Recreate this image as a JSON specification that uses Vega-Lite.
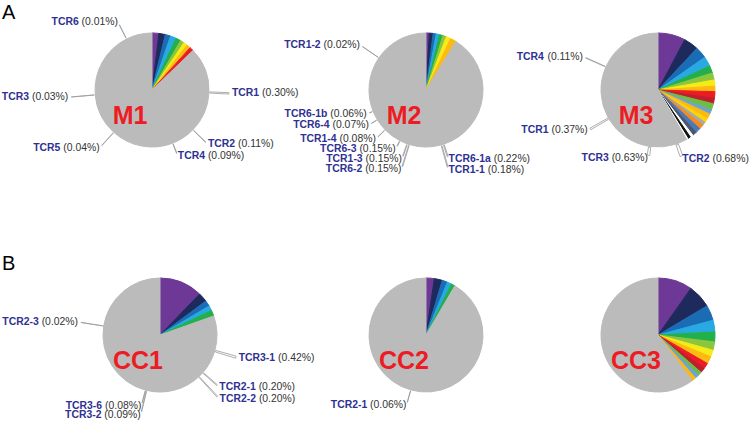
{
"$schema":"https://vega.github.io/schema/vega-lite/v6.json",
"background":"white",
"padding":{"left":1,"top":1,"right":0,"bottom":0},
"columns":3,
"align":"none",
"bounds":"flush",
"spacing":{"row":121,"column":0},
"resolve":{"scale":{"theta":"independent","color":"independent","stroke":"independent"}},
"config":{"view":{"stroke":null},"text":{"font":"Liberation Sans","fontSize":10.4,"baseline":"middle","color":"#333333"}},
"concat":[
{"width":240,"height":124,
"data":{"values":[
{"k":1,"c":"C1","v":1.94},{"k":2,"c":"C2","v":1.81},{"k":3,"c":"C3","v":1.53},{"k":4,"c":"C4","v":1.67},{"k":5,"c":"C5","v":1.39},{"k":6,"c":"C6","v":1.11},{"k":7,"c":"C7","v":1.11},{"k":8,"c":"C8","v":1.11},{"k":9,"c":"C9","v":1.11},
{"k":10,"c":"other","v":12.76},{"k":11,"c":"other","v":0.30,"name":"TCR1","pct":"(0.30%)"},{"k":12,"c":"other","v":11.39},{"k":13,"c":"other","v":0.11,"name":"TCR2","pct":"(0.11%)"},{"k":14,"c":"other","v":6.70},{"k":15,"c":"other","v":0.09,"name":"TCR4","pct":"(0.09%)"},{"k":16,"c":"other","v":17.55},{"k":17,"c":"other","v":0.04,"name":"TCR5","pct":"(0.04%)"},{"k":18,"c":"other","v":11.90},{"k":19,"c":"other","v":0.03,"name":"TCR3","pct":"(0.03%)"},{"k":20,"c":"other","v":18.97},{"k":21,"c":"other","v":0.01,"name":"TCR6","pct":"(0.01%)"},{"k":22,"c":"other","v":7.38}]},
"layer":[
{"mark":{"type":"arc","outerRadius":57,"strokeWidth":1},"encoding":{"theta":{"field":"v","type":"quantitative","stack":true},"order":{"field":"k","type":"quantitative"},"color":{"field":"c","type":"nominal","scale":{"domain":["C1","C2","C3","C4","C5","C6","C7","C8","C9","C10","C11","C12","C13","C14","C15","C16","C17","C18","C19","C20","other"],"range":["#6E3996","#1F2A5C","#1A6DB5","#28A9E1","#22B04B","#8CC63F","#F6EB16","#FDBA12","#EC1C24","#BE1E2D","#6DBE45","#6CA3D8","#FDB913","#FFD400","#A7A9AC","#F58A1F","#4A79B8","#4C5670","#FFFFFF","#111111","#BBBBBB"]},"legend":null},"stroke":{"field":"c","type":"nominal","scale":{"domain":["C1","C2","C3","C4","C5","C6","C7","C8","C9","C10","C11","C12","C13","C14","C15","C16","C17","C18","C19","C20","other"],"range":["#6E3996","#1F2A5C","#1A6DB5","#28A9E1","#22B04B","#8CC63F","#F6EB16","#FDBA12","#EC1C24","#BE1E2D","#6DBE45","#6CA3D8","#FDB913","#FFD400","#A7A9AC","#F58A1F","#4A79B8","#4C5670","#FFFFFF","#111111","#BBBBBB"]},"legend":null}}},
{"transform":[{"filter":"datum.k==1"}],"mark":{"type":"text","text":"M1","font":"Liberation Sans","fontSize":25,"fontWeight":"bold","color":"#ED1C24","align":"center","dx":-22,"dy":26},"encoding":{}},
{"transform":[{"filter":"datum.k==1"}],"mark":{"type":"text","text":"A","font":"Liberation Sans","fontSize":20,"color":"#000000","align":"left","baseline":"alphabetic","dx":-150,"dy":-71},"encoding":{}},
{"encoding":{"theta":{"field":"v","type":"quantitative","stack":true},"order":{"field":"k","type":"quantitative"}},"layer":[{"mark":{"type":"arc","innerRadius":58,"outerRadius":77,"filled":false,"stroke":"#999999","strokeWidth":0.8},"encoding":{"strokeOpacity":{"condition":{"test":"datum.name=='TCR1'","value":1},"value":0}}},{"mark":{"type":"text","radius":80,"align":"left","fontWeight":"bold","color":"#2E3192"},"encoding":{"text":{"condition":{"test":"datum.name=='TCR1'","field":"name","type":"nominal"},"value":""}}},{"mark":{"type":"text","radius":80,"align":"left","dx":30.1},"encoding":{"text":{"condition":{"test":"datum.name=='TCR1'","field":"pct","type":"nominal"},"value":""}}}]},
{"encoding":{"theta":{"field":"v","type":"quantitative","stack":true},"order":{"field":"k","type":"quantitative"}},"layer":[{"mark":{"type":"arc","innerRadius":58,"outerRadius":75,"filled":false,"stroke":"#999999","strokeWidth":0.8},"encoding":{"strokeOpacity":{"condition":{"test":"datum.name=='TCR2'","value":1},"value":0}}},{"mark":{"type":"text","radius":78,"align":"left","fontWeight":"bold","color":"#2E3192"},"encoding":{"text":{"condition":{"test":"datum.name=='TCR2'","field":"name","type":"nominal"},"value":""}}},{"mark":{"type":"text","radius":78,"align":"left","dx":30.1},"encoding":{"text":{"condition":{"test":"datum.name=='TCR2'","field":"pct","type":"nominal"},"value":""}}}]},
{"encoding":{"theta":{"field":"v","type":"quantitative","stack":true},"order":{"field":"k","type":"quantitative"}},"layer":[{"mark":{"type":"arc","innerRadius":58,"outerRadius":68,"filled":false,"stroke":"#999999","strokeWidth":0.8},"encoding":{"strokeOpacity":{"condition":{"test":"datum.name=='TCR4'","value":1},"value":0}}},{"mark":{"type":"text","radius":71,"align":"left","fontWeight":"bold","color":"#2E3192"},"encoding":{"text":{"condition":{"test":"datum.name=='TCR4'","field":"name","type":"nominal"},"value":""}}},{"mark":{"type":"text","radius":71,"align":"left","dx":30.1},"encoding":{"text":{"condition":{"test":"datum.name=='TCR4'","field":"pct","type":"nominal"},"value":""}}}]},
{"encoding":{"theta":{"field":"v","type":"quantitative","stack":true},"order":{"field":"k","type":"quantitative"}},"layer":[{"mark":{"type":"arc","innerRadius":58,"outerRadius":75,"filled":false,"stroke":"#999999","strokeWidth":0.8},"encoding":{"strokeOpacity":{"condition":{"test":"datum.name=='TCR5'","value":1},"value":0}}},{"mark":{"type":"text","radius":78,"align":"right","dx":-39.3,"fontWeight":"bold","color":"#2E3192"},"encoding":{"text":{"condition":{"test":"datum.name=='TCR5'","field":"name","type":"nominal"},"value":""}}},{"mark":{"type":"text","radius":78,"align":"right"},"encoding":{"text":{"condition":{"test":"datum.name=='TCR5'","field":"pct","type":"nominal"},"value":""}}}]},
{"encoding":{"theta":{"field":"v","type":"quantitative","stack":true},"order":{"field":"k","type":"quantitative"}},"layer":[{"mark":{"type":"arc","innerRadius":58,"outerRadius":81,"filled":false,"stroke":"#999999","strokeWidth":0.8},"encoding":{"strokeOpacity":{"condition":{"test":"datum.name=='TCR3'","value":1},"value":0}}},{"mark":{"type":"text","radius":84,"align":"right","dx":-39.3,"fontWeight":"bold","color":"#2E3192"},"encoding":{"text":{"condition":{"test":"datum.name=='TCR3'","field":"name","type":"nominal"},"value":""}}},{"mark":{"type":"text","radius":84,"align":"right"},"encoding":{"text":{"condition":{"test":"datum.name=='TCR3'","field":"pct","type":"nominal"},"value":""}}}]},
{"encoding":{"theta":{"field":"v","type":"quantitative","stack":true},"order":{"field":"k","type":"quantitative"}},"layer":[{"mark":{"type":"arc","innerRadius":58,"outerRadius":73,"filled":false,"stroke":"#999999","strokeWidth":0.8},"encoding":{"strokeOpacity":{"condition":{"test":"datum.name=='TCR6'","value":1},"value":0}}},{"mark":{"type":"text","radius":76,"align":"right","dx":-39.3,"fontWeight":"bold","color":"#2E3192"},"encoding":{"text":{"condition":{"test":"datum.name=='TCR6'","field":"name","type":"nominal"},"value":""}}},{"mark":{"type":"text","radius":76,"align":"right"},"encoding":{"text":{"condition":{"test":"datum.name=='TCR6'","field":"pct","type":"nominal"},"value":""}}}]}
]},
{"width":276,"height":124,
"data":{"values":[
{"k":1,"c":"C1","v":0.94},{"k":2,"c":"C2","v":1.06},{"k":3,"c":"C3","v":0.86},{"k":4,"c":"C4","v":0.97},{"k":5,"c":"C5","v":0.97},{"k":6,"c":"C6","v":1.00},{"k":7,"c":"C7","v":1.33},{"k":8,"c":"C8","v":1.64},
{"k":9,"c":"other","v":36.11},{"k":10,"c":"other","v":0.22,"name":"TCR6-1a","pct":"(0.22%)"},{"k":11,"c":"other","v":0.45},{"k":12,"c":"other","v":0.18,"name":"TCR1-1","pct":"(0.18%)"},{"k":13,"c":"other","v":8.96},{"k":14,"c":"other","v":0.15,"name":"TCR6-2","pct":"(0.15%)"},{"k":15,"c":"other","v":0.43},{"k":16,"c":"other","v":0.15,"name":"TCR1-3","pct":"(0.15%)"},{"k":17,"c":"other","v":2.07},{"k":18,"c":"other","v":0.15,"name":"TCR6-3","pct":"(0.15%)"},{"k":19,"c":"other","v":5.02},{"k":20,"c":"other","v":0.08,"name":"TCR1-4","pct":"(0.08%)"},{"k":21,"c":"other","v":3.48},{"k":22,"c":"other","v":0.07,"name":"TCR6-4","pct":"(0.07%)"},{"k":23,"c":"other","v":2.57},{"k":24,"c":"other","v":0.06,"name":"TCR6-1b","pct":"(0.06%)"},{"k":25,"c":"other","v":15.61},{"k":26,"c":"other","v":0.02,"name":"TCR1-2","pct":"(0.02%)"},{"k":27,"c":"other","v":15.45}]},
"layer":[
{"mark":{"type":"arc","outerRadius":57,"strokeWidth":1},"encoding":{"theta":{"field":"v","type":"quantitative","stack":true},"order":{"field":"k","type":"quantitative"},"color":{"field":"c","type":"nominal","scale":{"domain":["C1","C2","C3","C4","C5","C6","C7","C8","C9","C10","C11","C12","C13","C14","C15","C16","C17","C18","C19","C20","other"],"range":["#6E3996","#1F2A5C","#1A6DB5","#28A9E1","#22B04B","#8CC63F","#F6EB16","#FDBA12","#EC1C24","#BE1E2D","#6DBE45","#6CA3D8","#FDB913","#FFD400","#A7A9AC","#F58A1F","#4A79B8","#4C5670","#FFFFFF","#111111","#BBBBBB"]},"legend":null},"stroke":{"field":"c","type":"nominal","scale":{"domain":["C1","C2","C3","C4","C5","C6","C7","C8","C9","C10","C11","C12","C13","C14","C15","C16","C17","C18","C19","C20","other"],"range":["#6E3996","#1F2A5C","#1A6DB5","#28A9E1","#22B04B","#8CC63F","#F6EB16","#FDBA12","#EC1C24","#BE1E2D","#6DBE45","#6CA3D8","#FDB913","#FFD400","#A7A9AC","#F58A1F","#4A79B8","#4C5670","#FFFFFF","#111111","#BBBBBB"]},"legend":null}}},
{"transform":[{"filter":"datum.k==1"}],"mark":{"type":"text","text":"M2","font":"Liberation Sans","fontSize":25,"fontWeight":"bold","color":"#ED1C24","align":"center","dx":-22,"dy":26},"encoding":{}},
{"encoding":{"theta":{"field":"v","type":"quantitative","stack":true},"order":{"field":"k","type":"quantitative"}},"layer":[{"mark":{"type":"arc","innerRadius":58,"outerRadius":70,"filled":false,"stroke":"#999999","strokeWidth":0.8},"encoding":{"strokeOpacity":{"condition":{"test":"datum.name=='TCR6-1a'","value":1},"value":0}}},{"mark":{"type":"text","radius":73,"align":"left","fontWeight":"bold","color":"#2E3192"},"encoding":{"text":{"condition":{"test":"datum.name=='TCR6-1a'","field":"name","type":"nominal"},"value":""}}},{"mark":{"type":"text","radius":73,"align":"left","dx":45.1},"encoding":{"text":{"condition":{"test":"datum.name=='TCR6-1a'","field":"pct","type":"nominal"},"value":""}}}]},
{"encoding":{"theta":{"field":"v","type":"quantitative","stack":true},"order":{"field":"k","type":"quantitative"}},"layer":[{"mark":{"type":"arc","innerRadius":58,"outerRadius":80,"filled":false,"stroke":"#999999","strokeWidth":0.8},"encoding":{"strokeOpacity":{"condition":{"test":"datum.name=='TCR1-1'","value":1},"value":0}}},{"mark":{"type":"text","radius":83,"align":"left","fontWeight":"bold","color":"#2E3192"},"encoding":{"text":{"condition":{"test":"datum.name=='TCR1-1'","field":"name","type":"nominal"},"value":""}}},{"mark":{"type":"text","radius":83,"align":"left","dx":39.3},"encoding":{"text":{"condition":{"test":"datum.name=='TCR1-1'","field":"pct","type":"nominal"},"value":""}}}]},
{"encoding":{"theta":{"field":"v","type":"quantitative","stack":true},"order":{"field":"k","type":"quantitative"}},"layer":[{"mark":{"type":"arc","innerRadius":58,"outerRadius":80,"filled":false,"stroke":"#999999","strokeWidth":0.8},"encoding":{"strokeOpacity":{"condition":{"test":"datum.name=='TCR6-2'","value":1},"value":0}}},{"mark":{"type":"text","radius":83,"align":"right","dx":-39.3,"fontWeight":"bold","color":"#2E3192"},"encoding":{"text":{"condition":{"test":"datum.name=='TCR6-2'","field":"name","type":"nominal"},"value":""}}},{"mark":{"type":"text","radius":83,"align":"right"},"encoding":{"text":{"condition":{"test":"datum.name=='TCR6-2'","field":"pct","type":"nominal"},"value":""}}}]},
{"encoding":{"theta":{"field":"v","type":"quantitative","stack":true},"order":{"field":"k","type":"quantitative"}},"layer":[{"mark":{"type":"arc","innerRadius":58,"outerRadius":70,"filled":false,"stroke":"#999999","strokeWidth":0.8},"encoding":{"strokeOpacity":{"condition":{"test":"datum.name=='TCR1-3'","value":1},"value":0}}},{"mark":{"type":"text","radius":73,"align":"right","dx":-39.3,"fontWeight":"bold","color":"#2E3192"},"encoding":{"text":{"condition":{"test":"datum.name=='TCR1-3'","field":"name","type":"nominal"},"value":""}}},{"mark":{"type":"text","radius":73,"align":"right"},"encoding":{"text":{"condition":{"test":"datum.name=='TCR1-3'","field":"pct","type":"nominal"},"value":""}}}]},
{"encoding":{"theta":{"field":"v","type":"quantitative","stack":true},"order":{"field":"k","type":"quantitative"}},"layer":[{"mark":{"type":"arc","innerRadius":58,"outerRadius":63,"filled":false,"stroke":"#999999","strokeWidth":0.8},"encoding":{"strokeOpacity":{"condition":{"test":"datum.name=='TCR6-3'","value":1},"value":0}}},{"mark":{"type":"text","radius":66,"align":"right","dx":-39.3,"fontWeight":"bold","color":"#2E3192"},"encoding":{"text":{"condition":{"test":"datum.name=='TCR6-3'","field":"name","type":"nominal"},"value":""}}},{"mark":{"type":"text","radius":66,"align":"right"},"encoding":{"text":{"condition":{"test":"datum.name=='TCR6-3'","field":"pct","type":"nominal"},"value":""}}}]},
{"encoding":{"theta":{"field":"v","type":"quantitative","stack":true},"order":{"field":"k","type":"quantitative"}},"layer":[{"mark":{"type":"arc","innerRadius":58,"outerRadius":67,"filled":false,"stroke":"#999999","strokeWidth":0.8},"encoding":{"strokeOpacity":{"condition":{"test":"datum.name=='TCR1-4'","value":1},"value":0}}},{"mark":{"type":"text","radius":70,"align":"right","dx":-39.3,"fontWeight":"bold","color":"#2E3192"},"encoding":{"text":{"condition":{"test":"datum.name=='TCR1-4'","field":"name","type":"nominal"},"value":""}}},{"mark":{"type":"text","radius":70,"align":"right"},"encoding":{"text":{"condition":{"test":"datum.name=='TCR1-4'","field":"pct","type":"nominal"},"value":""}}}]},
{"encoding":{"theta":{"field":"v","type":"quantitative","stack":true},"order":{"field":"k","type":"quantitative"}},"layer":[{"mark":{"type":"arc","innerRadius":58,"outerRadius":64,"filled":false,"stroke":"#999999","strokeWidth":0.8},"encoding":{"strokeOpacity":{"condition":{"test":"datum.name=='TCR6-4'","value":1},"value":0}}},{"mark":{"type":"text","radius":67,"align":"right","dx":-39.3,"fontWeight":"bold","color":"#2E3192"},"encoding":{"text":{"condition":{"test":"datum.name=='TCR6-4'","field":"name","type":"nominal"},"value":""}}},{"mark":{"type":"text","radius":67,"align":"right"},"encoding":{"text":{"condition":{"test":"datum.name=='TCR6-4'","field":"pct","type":"nominal"},"value":""}}}]},
{"encoding":{"theta":{"field":"v","type":"quantitative","stack":true},"order":{"field":"k","type":"quantitative"}},"layer":[{"mark":{"type":"arc","innerRadius":58,"outerRadius":61,"filled":false,"stroke":"#999999","strokeWidth":0.8},"encoding":{"strokeOpacity":{"condition":{"test":"datum.name=='TCR6-1b'","value":1},"value":0}}},{"mark":{"type":"text","radius":64,"align":"right","dx":-39.3,"fontWeight":"bold","color":"#2E3192"},"encoding":{"text":{"condition":{"test":"datum.name=='TCR6-1b'","field":"name","type":"nominal"},"value":""}}},{"mark":{"type":"text","radius":64,"align":"right"},"encoding":{"text":{"condition":{"test":"datum.name=='TCR6-1b'","field":"pct","type":"nominal"},"value":""}}}]},
{"encoding":{"theta":{"field":"v","type":"quantitative","stack":true},"order":{"field":"k","type":"quantitative"}},"layer":[{"mark":{"type":"arc","innerRadius":58,"outerRadius":77,"filled":false,"stroke":"#999999","strokeWidth":0.8},"encoding":{"strokeOpacity":{"condition":{"test":"datum.name=='TCR1-2'","value":1},"value":0}}},{"mark":{"type":"text","radius":80,"align":"right","dx":-39.3,"fontWeight":"bold","color":"#2E3192"},"encoding":{"text":{"condition":{"test":"datum.name=='TCR1-2'","field":"name","type":"nominal"},"value":""}}},{"mark":{"type":"text","radius":80,"align":"right"},"encoding":{"text":{"condition":{"test":"datum.name=='TCR1-2'","field":"pct","type":"nominal"},"value":""}}}]}
]},
{"width":188,"height":124,
"data":{"values":[
{"k":1,"c":"C1","v":7.78},{"k":2,"c":"C2","v":4.17},{"k":3,"c":"C3","v":3.33},{"k":4,"c":"C4","v":2.78},{"k":5,"c":"C5","v":2.11},{"k":6,"c":"C6","v":2.00},{"k":7,"c":"C7","v":1.72},{"k":8,"c":"C8","v":1.58},{"k":9,"c":"C9","v":1.89},{"k":10,"c":"C10","v":1.53},{"k":11,"c":"C11","v":1.89},{"k":12,"c":"C12","v":1.17},{"k":13,"c":"C13","v":1.39},{"k":14,"c":"C14","v":1.25},{"k":15,"c":"C15","v":0.97},{"k":16,"c":"C16","v":1.33},{"k":17,"c":"C17","v":1.44},{"k":18,"c":"C18","v":1.22},{"k":19,"c":"C19","v":0.86},{"k":20,"c":"C20","v":0.83},{"k":21,"c":"C19","v":0.42},
{"k":22,"c":"other","v":2.58},{"k":23,"c":"other","v":0.68,"name":"TCR2","pct":"(0.68%)"},{"k":24,"c":"other","v":7.07},{"k":25,"c":"other","v":0.63,"name":"TCR3","pct":"(0.63%)"},{"k":26,"c":"other","v":13.87},{"k":27,"c":"other","v":0.37,"name":"TCR1","pct":"(0.37%)"},{"k":28,"c":"other","v":14.74},{"k":29,"c":"other","v":0.11,"name":"TCR4","pct":"(0.11%)"},{"k":30,"c":"other","v":18.28}]},
"layer":[
{"mark":{"type":"arc","outerRadius":57,"strokeWidth":1},"encoding":{"theta":{"field":"v","type":"quantitative","stack":true},"order":{"field":"k","type":"quantitative"},"color":{"field":"c","type":"nominal","scale":{"domain":["C1","C2","C3","C4","C5","C6","C7","C8","C9","C10","C11","C12","C13","C14","C15","C16","C17","C18","C19","C20","other"],"range":["#6E3996","#1F2A5C","#1A6DB5","#28A9E1","#22B04B","#8CC63F","#F6EB16","#FDBA12","#EC1C24","#BE1E2D","#6DBE45","#6CA3D8","#FDB913","#FFD400","#A7A9AC","#F58A1F","#4A79B8","#4C5670","#FFFFFF","#111111","#BBBBBB"]},"legend":null},"stroke":{"field":"c","type":"nominal","scale":{"domain":["C1","C2","C3","C4","C5","C6","C7","C8","C9","C10","C11","C12","C13","C14","C15","C16","C17","C18","C19","C20","other"],"range":["#6E3996","#1F2A5C","#1A6DB5","#28A9E1","#22B04B","#8CC63F","#F6EB16","#FDBA12","#EC1C24","#BE1E2D","#6DBE45","#6CA3D8","#FDB913","#FFD400","#A7A9AC","#F58A1F","#4A79B8","#4C5670","#FFFFFF","#111111","#BBBBBB"]},"legend":null}}},
{"transform":[{"filter":"datum.k==1"}],"mark":{"type":"text","text":"M3","font":"Liberation Sans","fontSize":25,"fontWeight":"bold","color":"#ED1C24","align":"center","dx":-22,"dy":26},"encoding":{}},
{"encoding":{"theta":{"field":"v","type":"quantitative","stack":true},"order":{"field":"k","type":"quantitative"}},"layer":[{"mark":{"type":"arc","innerRadius":58,"outerRadius":70,"filled":false,"stroke":"#999999","strokeWidth":0.8},"encoding":{"strokeOpacity":{"condition":{"test":"datum.name=='TCR2'","value":1},"value":0}}},{"mark":{"type":"text","radius":73,"align":"left","fontWeight":"bold","color":"#2E3192"},"encoding":{"text":{"condition":{"test":"datum.name=='TCR2'","field":"name","type":"nominal"},"value":""}}},{"mark":{"type":"text","radius":73,"align":"left","dx":30.1},"encoding":{"text":{"condition":{"test":"datum.name=='TCR2'","field":"pct","type":"nominal"},"value":""}}}]},
{"encoding":{"theta":{"field":"v","type":"quantitative","stack":true},"order":{"field":"k","type":"quantitative"}},"layer":[{"mark":{"type":"arc","innerRadius":58,"outerRadius":66,"filled":false,"stroke":"#999999","strokeWidth":0.8},"encoding":{"strokeOpacity":{"condition":{"test":"datum.name=='TCR3'","value":1},"value":0}}},{"mark":{"type":"text","radius":69,"align":"right","dx":-39.3,"fontWeight":"bold","color":"#2E3192"},"encoding":{"text":{"condition":{"test":"datum.name=='TCR3'","field":"name","type":"nominal"},"value":""}}},{"mark":{"type":"text","radius":69,"align":"right"},"encoding":{"text":{"condition":{"test":"datum.name=='TCR3'","field":"pct","type":"nominal"},"value":""}}}]},
{"encoding":{"theta":{"field":"v","type":"quantitative","stack":true},"order":{"field":"k","type":"quantitative"}},"layer":[{"mark":{"type":"arc","innerRadius":58,"outerRadius":78,"filled":false,"stroke":"#999999","strokeWidth":0.8},"encoding":{"strokeOpacity":{"condition":{"test":"datum.name=='TCR1'","value":1},"value":0}}},{"mark":{"type":"text","radius":81,"align":"right","dx":-39.3,"fontWeight":"bold","color":"#2E3192"},"encoding":{"text":{"condition":{"test":"datum.name=='TCR1'","field":"name","type":"nominal"},"value":""}}},{"mark":{"type":"text","radius":81,"align":"right"},"encoding":{"text":{"condition":{"test":"datum.name=='TCR1'","field":"pct","type":"nominal"},"value":""}}}]},
{"encoding":{"theta":{"field":"v","type":"quantitative","stack":true},"order":{"field":"k","type":"quantitative"}},"layer":[{"mark":{"type":"arc","innerRadius":58,"outerRadius":79,"filled":false,"stroke":"#999999","strokeWidth":0.8},"encoding":{"strokeOpacity":{"condition":{"test":"datum.name=='TCR4'","value":1},"value":0}}},{"mark":{"type":"text","radius":82,"align":"right","dx":-39.3,"fontWeight":"bold","color":"#2E3192"},"encoding":{"text":{"condition":{"test":"datum.name=='TCR4'","field":"name","type":"nominal"},"value":""}}},{"mark":{"type":"text","radius":82,"align":"right"},"encoding":{"text":{"condition":{"test":"datum.name=='TCR4'","field":"pct","type":"nominal"},"value":""}}}]}
]},
{"width":256,"height":124,
"data":{"values":[
{"k":1,"c":"C1","v":12.22},{"k":2,"c":"C2","v":2.64},{"k":3,"c":"C3","v":1.67},{"k":4,"c":"C4","v":1.39},{"k":5,"c":"C5","v":1.67},
{"k":6,"c":"other","v":9.72},{"k":7,"c":"other","v":0.42,"name":"TCR3-1","pct":"(0.42%)"},{"k":8,"c":"other","v":6.64},{"k":9,"c":"other","v":0.20,"name":"TCR2-1","pct":"(0.20%)"},{"k":10,"c":"other","v":1.41},{"k":11,"c":"other","v":0.20,"name":"TCR2-2","pct":"(0.20%)"},{"k":12,"c":"other","v":15.55},{"k":13,"c":"other","v":0.09,"name":"TCR3-2","pct":"(0.09%)"},{"k":14,"c":"other","v":0.24},{"k":15,"c":"other","v":0.08,"name":"TCR3-6","pct":"(0.08%)"},{"k":16,"c":"other","v":23.36},{"k":17,"c":"other","v":0.02,"name":"TCR2-3","pct":"(0.02%)"},{"k":18,"c":"other","v":22.48}]},
"layer":[
{"mark":{"type":"arc","outerRadius":57,"strokeWidth":1},"encoding":{"theta":{"field":"v","type":"quantitative","stack":true},"order":{"field":"k","type":"quantitative"},"color":{"field":"c","type":"nominal","scale":{"domain":["C1","C2","C3","C4","C5","C6","C7","C8","C9","C10","C11","C12","C13","C14","C15","C16","C17","C18","C19","C20","other"],"range":["#6E3996","#1F2A5C","#1A6DB5","#28A9E1","#22B04B","#8CC63F","#F6EB16","#FDBA12","#EC1C24","#BE1E2D","#6DBE45","#6CA3D8","#FDB913","#FFD400","#A7A9AC","#F58A1F","#4A79B8","#4C5670","#FFFFFF","#111111","#BBBBBB"]},"legend":null},"stroke":{"field":"c","type":"nominal","scale":{"domain":["C1","C2","C3","C4","C5","C6","C7","C8","C9","C10","C11","C12","C13","C14","C15","C16","C17","C18","C19","C20","other"],"range":["#6E3996","#1F2A5C","#1A6DB5","#28A9E1","#22B04B","#8CC63F","#F6EB16","#FDBA12","#EC1C24","#BE1E2D","#6DBE45","#6CA3D8","#FDB913","#FFD400","#A7A9AC","#F58A1F","#4A79B8","#4C5670","#FFFFFF","#111111","#BBBBBB"]},"legend":null}}},
{"transform":[{"filter":"datum.k==1"}],"mark":{"type":"text","text":"CC1","font":"Liberation Sans","fontSize":25,"fontWeight":"bold","color":"#ED1C24","align":"center","dx":-22,"dy":26},"encoding":{}},
{"transform":[{"filter":"datum.k==1"}],"mark":{"type":"text","text":"B","font":"Liberation Sans","fontSize":20,"color":"#000000","align":"left","baseline":"alphabetic","dx":-158,"dy":-65},"encoding":{}},
{"encoding":{"theta":{"field":"v","type":"quantitative","stack":true},"order":{"field":"k","type":"quantitative"}},"layer":[{"mark":{"type":"arc","innerRadius":58,"outerRadius":79,"filled":false,"stroke":"#999999","strokeWidth":0.8},"encoding":{"strokeOpacity":{"condition":{"test":"datum.name=='TCR3-1'","value":1},"value":0}}},{"mark":{"type":"text","radius":82,"align":"left","fontWeight":"bold","color":"#2E3192"},"encoding":{"text":{"condition":{"test":"datum.name=='TCR3-1'","field":"name","type":"nominal"},"value":""}}},{"mark":{"type":"text","radius":82,"align":"left","dx":39.3},"encoding":{"text":{"condition":{"test":"datum.name=='TCR3-1'","field":"pct","type":"nominal"},"value":""}}}]},
{"encoding":{"theta":{"field":"v","type":"quantitative","stack":true},"order":{"field":"k","type":"quantitative"}},"layer":[{"mark":{"type":"arc","innerRadius":58,"outerRadius":76,"filled":false,"stroke":"#999999","strokeWidth":0.8},"encoding":{"strokeOpacity":{"condition":{"test":"datum.name=='TCR2-1'","value":1},"value":0}}},{"mark":{"type":"text","radius":79,"align":"left","fontWeight":"bold","color":"#2E3192"},"encoding":{"text":{"condition":{"test":"datum.name=='TCR2-1'","field":"name","type":"nominal"},"value":""}}},{"mark":{"type":"text","radius":79,"align":"left","dx":39.3},"encoding":{"text":{"condition":{"test":"datum.name=='TCR2-1'","field":"pct","type":"nominal"},"value":""}}}]},
{"encoding":{"theta":{"field":"v","type":"quantitative","stack":true},"order":{"field":"k","type":"quantitative"}},"layer":[{"mark":{"type":"arc","innerRadius":58,"outerRadius":84,"filled":false,"stroke":"#999999","strokeWidth":0.8},"encoding":{"strokeOpacity":{"condition":{"test":"datum.name=='TCR2-2'","value":1},"value":0}}},{"mark":{"type":"text","radius":87.5,"align":"left","fontWeight":"bold","color":"#2E3192"},"encoding":{"text":{"condition":{"test":"datum.name=='TCR2-2'","field":"name","type":"nominal"},"value":""}}},{"mark":{"type":"text","radius":87.5,"align":"left","dx":39.3},"encoding":{"text":{"condition":{"test":"datum.name=='TCR2-2'","field":"pct","type":"nominal"},"value":""}}}]},
{"encoding":{"theta":{"field":"v","type":"quantitative","stack":true},"order":{"field":"k","type":"quantitative"}},"layer":[{"mark":{"type":"arc","innerRadius":58,"outerRadius":79,"filled":false,"stroke":"#999999","strokeWidth":0.8},"encoding":{"strokeOpacity":{"condition":{"test":"datum.name=='TCR3-2'","value":1},"value":0}}},{"mark":{"type":"text","radius":82,"align":"right","dx":-39.3,"fontWeight":"bold","color":"#2E3192"},"encoding":{"text":{"condition":{"test":"datum.name=='TCR3-2'","field":"name","type":"nominal"},"value":""}}},{"mark":{"type":"text","radius":82,"align":"right"},"encoding":{"text":{"condition":{"test":"datum.name=='TCR3-2'","field":"pct","type":"nominal"},"value":""}}}]},
{"encoding":{"theta":{"field":"v","type":"quantitative","stack":true},"order":{"field":"k","type":"quantitative"}},"layer":[{"mark":{"type":"arc","innerRadius":58,"outerRadius":70,"filled":false,"stroke":"#999999","strokeWidth":0.8},"encoding":{"strokeOpacity":{"condition":{"test":"datum.name=='TCR3-6'","value":1},"value":0}}},{"mark":{"type":"text","radius":73,"align":"right","dx":-39.3,"fontWeight":"bold","color":"#2E3192"},"encoding":{"text":{"condition":{"test":"datum.name=='TCR3-6'","field":"name","type":"nominal"},"value":""}}},{"mark":{"type":"text","radius":73,"align":"right"},"encoding":{"text":{"condition":{"test":"datum.name=='TCR3-6'","field":"pct","type":"nominal"},"value":""}}}]},
{"encoding":{"theta":{"field":"v","type":"quantitative","stack":true},"order":{"field":"k","type":"quantitative"}},"layer":[{"mark":{"type":"arc","innerRadius":58,"outerRadius":80,"filled":false,"stroke":"#999999","strokeWidth":0.8},"encoding":{"strokeOpacity":{"condition":{"test":"datum.name=='TCR2-3'","value":1},"value":0}}},{"mark":{"type":"text","radius":83,"align":"right","dx":-39.3,"fontWeight":"bold","color":"#2E3192"},"encoding":{"text":{"condition":{"test":"datum.name=='TCR2-3'","field":"name","type":"nominal"},"value":""}}},{"mark":{"type":"text","radius":83,"align":"right"},"encoding":{"text":{"condition":{"test":"datum.name=='TCR2-3'","field":"pct","type":"nominal"},"value":""}}}]}
]},
{"width":276,"height":124,
"data":{"values":[
{"k":1,"c":"C1","v":2.33},{"k":2,"c":"C2","v":2.28},{"k":3,"c":"C3","v":1.50},{"k":4,"c":"C4","v":1.28},{"k":5,"c":"C5","v":1.06},
{"k":6,"c":"other","v":45.83},{"k":7,"c":"other","v":0.06,"name":"TCR2-1","pct":"(0.06%)"},{"k":8,"c":"other","v":45.66}]},
"layer":[
{"mark":{"type":"arc","outerRadius":57,"strokeWidth":1},"encoding":{"theta":{"field":"v","type":"quantitative","stack":true},"order":{"field":"k","type":"quantitative"},"color":{"field":"c","type":"nominal","scale":{"domain":["C1","C2","C3","C4","C5","C6","C7","C8","C9","C10","C11","C12","C13","C14","C15","C16","C17","C18","C19","C20","other"],"range":["#6E3996","#1F2A5C","#1A6DB5","#28A9E1","#22B04B","#8CC63F","#F6EB16","#FDBA12","#EC1C24","#BE1E2D","#6DBE45","#6CA3D8","#FDB913","#FFD400","#A7A9AC","#F58A1F","#4A79B8","#4C5670","#FFFFFF","#111111","#BBBBBB"]},"legend":null},"stroke":{"field":"c","type":"nominal","scale":{"domain":["C1","C2","C3","C4","C5","C6","C7","C8","C9","C10","C11","C12","C13","C14","C15","C16","C17","C18","C19","C20","other"],"range":["#6E3996","#1F2A5C","#1A6DB5","#28A9E1","#22B04B","#8CC63F","#F6EB16","#FDBA12","#EC1C24","#BE1E2D","#6DBE45","#6CA3D8","#FDB913","#FFD400","#A7A9AC","#F58A1F","#4A79B8","#4C5670","#FFFFFF","#111111","#BBBBBB"]},"legend":null}}},
{"transform":[{"filter":"datum.k==1"}],"mark":{"type":"text","text":"CC2","font":"Liberation Sans","fontSize":25,"fontWeight":"bold","color":"#ED1C24","align":"center","dx":-22,"dy":26},"encoding":{}},
{"encoding":{"theta":{"field":"v","type":"quantitative","stack":true},"order":{"field":"k","type":"quantitative"}},"layer":[{"mark":{"type":"arc","innerRadius":58,"outerRadius":70,"filled":false,"stroke":"#999999","strokeWidth":0.8},"encoding":{"strokeOpacity":{"condition":{"test":"datum.name=='TCR2-1'","value":1},"value":0}}},{"mark":{"type":"text","radius":73,"align":"right","dx":-39.3,"fontWeight":"bold","color":"#2E3192"},"encoding":{"text":{"condition":{"test":"datum.name=='TCR2-1'","field":"name","type":"nominal"},"value":""}}},{"mark":{"type":"text","radius":73,"align":"right"},"encoding":{"text":{"condition":{"test":"datum.name=='TCR2-1'","field":"pct","type":"nominal"},"value":""}}}]}
]},
{"width":188,"height":124,
"data":{"values":[
{"k":1,"c":"C1","v":9.78},{"k":2,"c":"C2","v":6.69},{"k":3,"c":"C3","v":4.36},{"k":4,"c":"C4","v":3.33},{"k":5,"c":"C5","v":2.78},{"k":6,"c":"C6","v":2.36},{"k":7,"c":"C7","v":1.94},{"k":8,"c":"C8","v":2.08},{"k":9,"c":"C9","v":1.67},{"k":10,"c":"C10","v":1.39},{"k":11,"c":"C11","v":1.11},{"k":12,"c":"C12","v":1.11},{"k":13,"c":"C13","v":1.11},{"k":14,"c":"other","v":60.29}]},
"layer":[
{"mark":{"type":"arc","outerRadius":57,"strokeWidth":1},"encoding":{"theta":{"field":"v","type":"quantitative","stack":true},"order":{"field":"k","type":"quantitative"},"color":{"field":"c","type":"nominal","scale":{"domain":["C1","C2","C3","C4","C5","C6","C7","C8","C9","C10","C11","C12","C13","C14","C15","C16","C17","C18","C19","C20","other"],"range":["#6E3996","#1F2A5C","#1A6DB5","#28A9E1","#22B04B","#8CC63F","#F6EB16","#FDBA12","#EC1C24","#BE1E2D","#6DBE45","#6CA3D8","#FDB913","#FFD400","#A7A9AC","#F58A1F","#4A79B8","#4C5670","#FFFFFF","#111111","#BBBBBB"]},"legend":null},"stroke":{"field":"c","type":"nominal","scale":{"domain":["C1","C2","C3","C4","C5","C6","C7","C8","C9","C10","C11","C12","C13","C14","C15","C16","C17","C18","C19","C20","other"],"range":["#6E3996","#1F2A5C","#1A6DB5","#28A9E1","#22B04B","#8CC63F","#F6EB16","#FDBA12","#EC1C24","#BE1E2D","#6DBE45","#6CA3D8","#FDB913","#FFD400","#A7A9AC","#F58A1F","#4A79B8","#4C5670","#FFFFFF","#111111","#BBBBBB"]},"legend":null}}},
{"transform":[{"filter":"datum.k==1"}],"mark":{"type":"text","text":"CC3","font":"Liberation Sans","fontSize":25,"fontWeight":"bold","color":"#ED1C24","align":"center","dx":-22,"dy":26},"encoding":{}}
]}
]
}
